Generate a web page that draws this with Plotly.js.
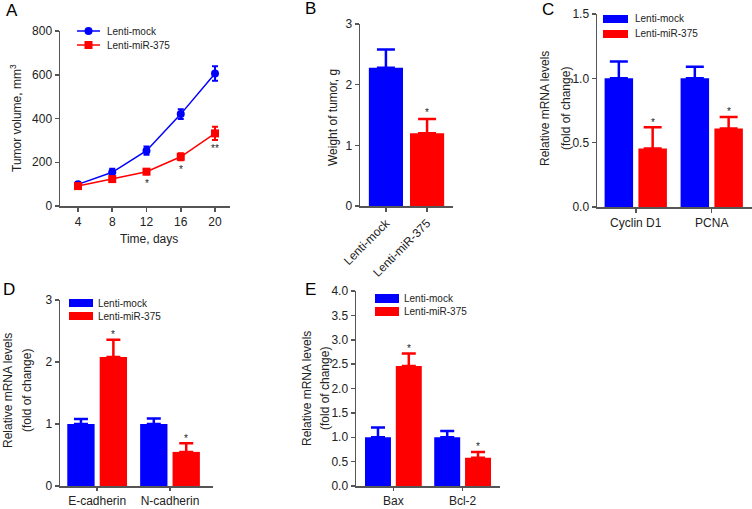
<!DOCTYPE html>
<html>
<head>
<meta charset="utf-8">
<script src="https://cdn.plot.ly/plotly-3.0.1.min.js"></script>
<style>html,body{margin:0;padding:0;background:#fff;}#chart{width:752px;height:509px;}</style>
</head>
<body>
<div id="chart"></div>
<script>
// ---------- data ----------
const seriesNames = ['Lenti-mock', 'Lenti-miR-375'];

// Panel A
const daysA = [4, 8, 12, 16, 20];
const mockVolume = [99, 154, 253, 420, 606];
const mockVolumeErr = [8, 16, 19, 22, 33];
const mirVolume = [91, 123, 157, 225, 332];
const mirVolumeErr = [5, 8, 12, 16, 30];
const volumeStars = ['', '', '*', '*', '**'];

// Panel B
const groupsB = ['Lenti-mock', 'Lenti-miR-375'];
const weightB = [2.28, 1.20];
const weightErrB = [0.30, 0.235];
const weightStars = ['', '*'];

// Panel C
const genesC = ['Cyclin D1', 'PCNA'];
const mockC = [1.0, 1.0];
const mockErrC = [0.13, 0.09];
const mirC = [0.455, 0.61];
const mirErrC = [0.165, 0.09];
const starsC = ['*', '*'];

// Panel D
const genesD = ['E-cadherin', 'N-cadherin'];
const mockD = [1.0, 1.0];
const mockErrD = [0.08, 0.09];
const mirD = [2.08, 0.55];
const mirErrD = [0.28, 0.14];
const starsD = ['*', '*'];

// Panel E
const genesE = ['Bax', 'Bcl-2'];
const mockE = [1.0, 1.0];
const mockErrE = [0.2, 0.13];
const mirE = [2.46, 0.58];
const mirErrE = [0.26, 0.12];
const starsE = ['*', '*'];

// ---------- helpers ----------
const W = 752, H = 509;
const FONT = 'Liberation Sans, Arial, Helvetica, sans-serif';
const BLUE = '#0000ff', RED = '#ff0000';
const px = x => x / W;
const py = y => 1 - y / H;

function axisBase(extra) {
  return Object.assign({
    showline: true, linecolor: '#555', linewidth: 1.5,
    ticks: 'outside', ticklen: 4, tickwidth: 1.5, tickcolor: '#555',
    showgrid: false, zeroline: false, fixedrange: true,
    tickfont: {family: FONT, size: 12, color: '#222'}
  }, extra);
}

function errUp(arr, color, w) {
  return {type: 'data', symmetric: false, array: arr, arrayminus: arr.map(() => 0),
          color: color, thickness: 2.5, width: w, visible: true};
}

const BW = 0.375;          // bar width (category units)
const OFF_MOCK = -0.41;
const OFF_MIR = 0.035;
const MIR_CENTER = OFF_MIR + BW / 2;

function barPair(cats, mock, mockErr, mir, mirErr, xa, ya, capw) {
  return [
    {type: 'bar', name: seriesNames[0], x: cats, y: mock, xaxis: xa, yaxis: ya,
     width: BW, offset: OFF_MOCK, marker: {color: BLUE, line: {width: 0}},
     error_y: errUp(mockErr, BLUE, capw), showlegend: false, hoverinfo: 'x+y'},
    {type: 'bar', name: seriesNames[1], x: cats, y: mir, xaxis: xa, yaxis: ya,
     width: BW, offset: OFF_MIR, marker: {color: RED, line: {width: 0}},
     error_y: errUp(mirErr, RED, capw), showlegend: false, hoverinfo: 'x+y'}
  ];
}

// ---------- traces ----------
const traces = [];
traces.push({type: 'scatter', mode: 'lines+markers', name: seriesNames[0], x: daysA, y: mockVolume,
  xaxis: 'x', yaxis: 'y', line: {color: BLUE, width: 1.5}, marker: {symbol: 'circle', size: 8, color: BLUE},
  error_y: {type: 'data', array: mockVolumeErr, color: BLUE, thickness: 2, width: 3}, showlegend: false});
traces.push({type: 'scatter', mode: 'lines+markers', name: seriesNames[1], x: daysA, y: mirVolume,
  xaxis: 'x', yaxis: 'y', line: {color: RED, width: 1.5}, marker: {symbol: 'square', size: 8, color: RED},
  error_y: {type: 'data', array: mirVolumeErr, color: RED, thickness: 2, width: 3}, showlegend: false});

// Panel B
[0, 1].forEach(i => {
  traces.push({type: 'bar', name: groupsB[i], x: [groupsB[i]], y: [weightB[i]], xaxis: 'x2', yaxis: 'y2',
    width: 0.83, offset: -0.415, marker: {color: i === 0 ? BLUE : RED},
    error_y: errUp([weightErrB[i]], i === 0 ? BLUE : RED, 9), showlegend: false});
});

traces.push(...barPair(genesC, mockC, mockErrC, mirC, mirErrC, 'x3', 'y3', 9));
traces.push(...barPair(genesD, mockD, mockErrD, mirD, mirErrD, 'x4', 'y4', 7));
traces.push(...barPair(genesE, mockE, mockErrE, mirE, mirErrE, 'x5', 'y5', 7));

// ---------- annotations & shapes ----------
const ann = [];
const shapes = [];
function paperText(text, x, y, opts) {
  ann.push(Object.assign({text: text, xref: 'paper', yref: 'paper', x: px(x), y: py(y),
    xanchor: 'center', yanchor: 'middle', showarrow: false,
    font: {family: FONT, size: 12, color: '#222'}}, opts || {}));
}

// panel letters
[['A', 12, 11], ['B', 310, 8], ['C', 548, 9], ['D', 9, 289], ['E', 310, 289]].forEach(l =>
  paperText(l[0], l[1], l[2], {font: {family: FONT, size: 17, color: '#000'}}));

// axis titles
paperText('Tumor volume, mm<sup>3</sup>', 16, 118, {textangle: -90});
paperText('Time, days', 149, 239);
paperText('Weight of tumor, g', 333, 118, {textangle: -90});
paperText('Relative mRNA levels', 545, 109, {textangle: -90});
paperText('(fold of change)', 566, 109, {textangle: -90});
paperText('Relative mRNA levels', 8, 391, {textangle: -90});
paperText('(fold of change)', 27, 391, {textangle: -90});
paperText('Relative mRNA levels', 307, 389, {textangle: -90});
paperText('(fold of change)', 325, 389, {textangle: -90});

// legends
function legendText(t, x, y) {
  paperText(t, x, y, {xanchor: 'left', font: {family: FONT, size: 10, color: '#222'}});
}
function legendBox(x0, x1, y0, y1, color) {
  shapes.push({type: 'rect', xref: 'paper', yref: 'paper', x0: px(x0), x1: px(x1), y0: py(y1), y1: py(y0),
    fillcolor: color, line: {width: 0}});
}
// A (line + marker)
[[31, BLUE, 'circle', seriesNames[0]], [45, RED, 'rect', seriesNames[1]]].forEach(r => {
  const y = r[0];
  shapes.push({type: 'line', xref: 'paper', yref: 'paper', x0: px(77), x1: px(100), y0: py(y), y1: py(y),
    line: {color: r[1], width: 1.5}});
  shapes.push({type: r[2], xref: 'paper', yref: 'paper', x0: px(84.5), x1: px(92.5), y0: py(y + 4), y1: py(y - 4),
    fillcolor: r[1], line: {width: 0}});
  legendText(r[3], 105, y);
});
// C
legendBox(603, 628, 15, 23, BLUE); legendText(seriesNames[0], 633, 19);
legendBox(603, 628, 30, 38, RED); legendText(seriesNames[1], 633, 34);
// D
legendBox(69, 93, 299, 307, BLUE); legendText(seriesNames[0], 96, 303);
legendBox(69, 93, 312, 320, RED); legendText(seriesNames[1], 96, 316);
// E
legendBox(375, 399, 294, 303, BLUE); legendText(seriesNames[0], 402, 298.5);
legendBox(375, 399, 307, 316, RED); legendText(seriesNames[1], 402, 311.5);

// significance stars
const starFont = {family: FONT, size: 10, color: '#222'};
daysA.forEach((d, i) => {
  if (!volumeStars[i]) return;
  ann.push({text: volumeStars[i], xref: 'x', yref: 'y', x: d, y: mirVolume[i] - mirVolumeErr[i],
    yanchor: 'middle', xanchor: 'center', yshift: -9, showarrow: false, font: starFont});
});
weightStars.forEach((s, i) => {
  if (!s) return;
  ann.push({text: s, xref: 'x2', yref: 'y2', x: i, y: weightB[i] + weightErrB[i],
    yanchor: 'middle', xanchor: 'center', yshift: 6, showarrow: false, font: starFont});
});
function barStars(stars, mir, err, xa, ya) {
  stars.forEach((s, i) => {
    if (!s) return;
    ann.push({text: s, xref: xa, yref: ya, x: i + MIR_CENTER, y: mir[i] + err[i],
      yanchor: 'middle', xanchor: 'center', yshift: 5, showarrow: false, font: starFont});
  });
}
barStars(starsC, mirC, mirErrC, 'x3', 'y3');
barStars(starsD, mirD, mirErrD, 'x4', 'y4');
barStars(starsE, mirE, mirErrE, 'x5', 'y5');

// ---------- layout ----------
const layout = {
  width: W, height: H, margin: {l: 0, r: 0, t: 0, b: 0},
  paper_bgcolor: '#fff', plot_bgcolor: 'rgba(0,0,0,0)',
  showlegend: false, barmode: 'overlay',
  font: {family: FONT, color: '#222'},
  xaxis: axisBase({domain: [px(60), px(230)], range: [1.9, 21.75], tickvals: daysA, anchor: 'y'}),
  yaxis: axisBase({domain: [py(206), py(31)], range: [0, 800], dtick: 200, anchor: 'x'}),
  xaxis2: axisBase({domain: [px(360), px(453)], range: [-0.63, 1.63], type: 'category', tickangle: -45, anchor: 'y2'}),
  yaxis2: axisBase({domain: [py(206), py(24)], range: [0, 3], dtick: 1, anchor: 'x2'}),
  xaxis3: axisBase({domain: [px(597), px(752)], range: [-0.51, 1.53], type: 'category', anchor: 'y3'}),
  yaxis3: axisBase({domain: [py(207), py(14)], range: [0, 1.5], dtick: 0.5, tickformat: '.1f', anchor: 'x3'}),
  xaxis4: axisBase({domain: [px(60), px(213)], range: [-0.51, 1.59], type: 'category', anchor: 'y4', ticklen: 3}),
  yaxis4: axisBase({domain: [py(486), py(300)], range: [0, 3], dtick: 1, anchor: 'x4'}),
  xaxis5: axisBase({domain: [px(356), px(500)], range: [-0.54, 1.54], type: 'category', anchor: 'y5', ticklen: 3}),
  yaxis5: axisBase({domain: [py(486), py(291)], range: [0, 4], dtick: 0.5, tickformat: '.1f', anchor: 'x5'}),
  annotations: ann,
  shapes: shapes
};

Plotly.newPlot('chart', traces, layout, {displayModeBar: false, staticPlot: true});
</script>
</body>
</html>
